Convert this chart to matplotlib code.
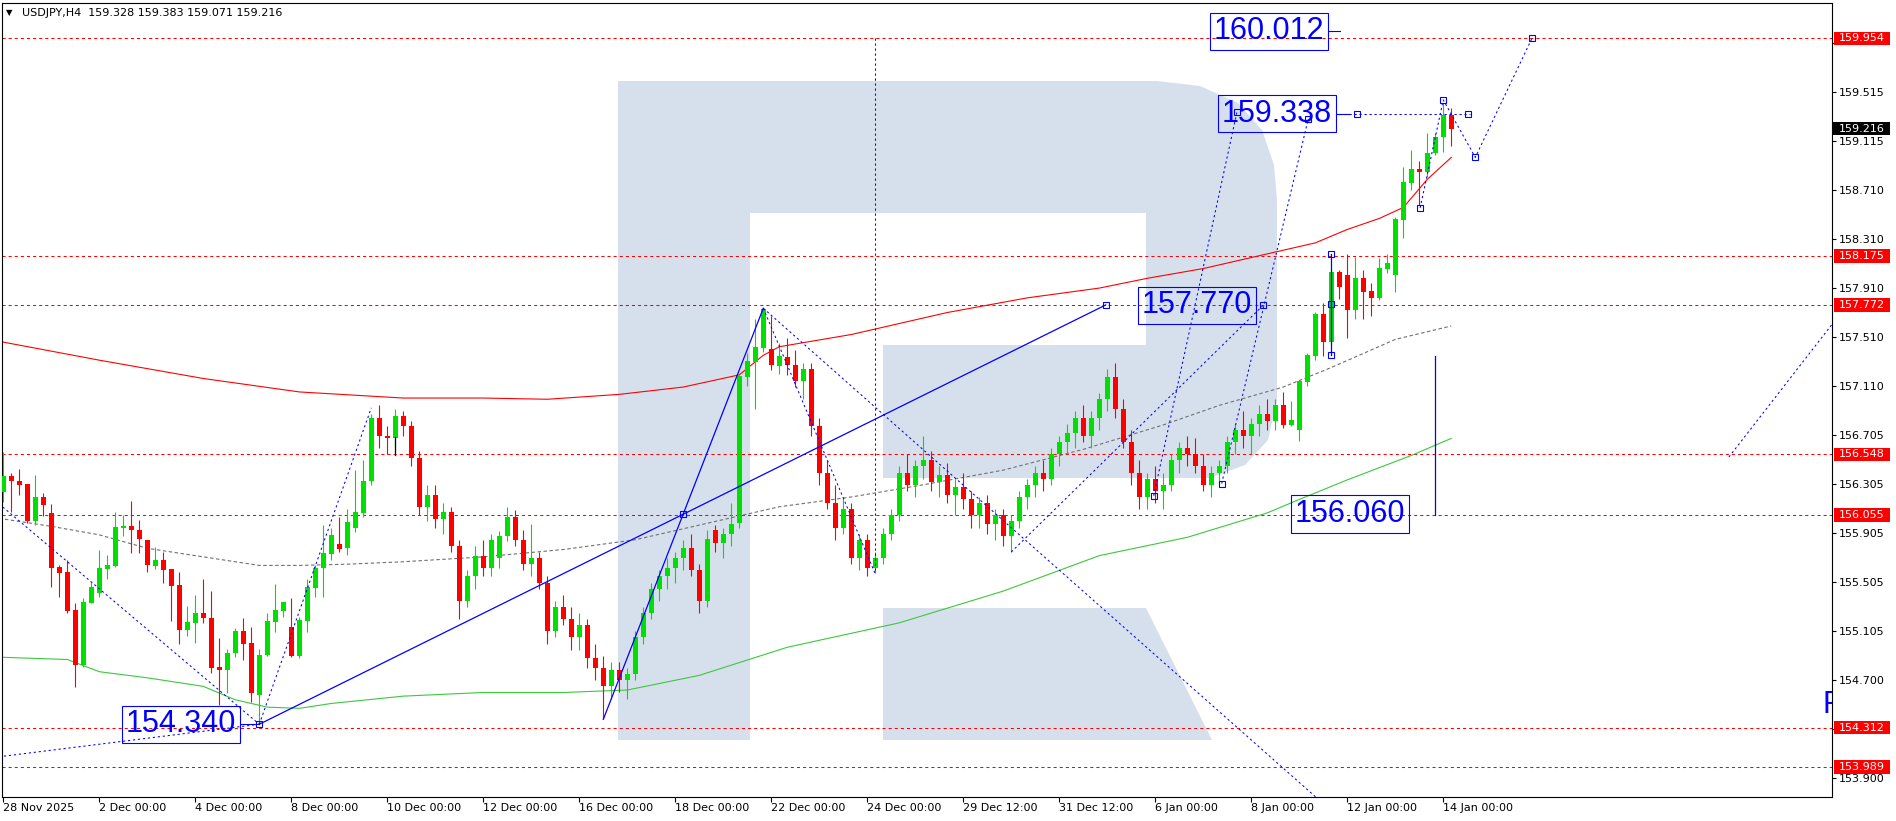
import matplotlib
matplotlib.use("Agg")
import matplotlib.pyplot as plt
import matplotlib.transforms as mtransforms
from matplotlib.patches import Rectangle, Polygon

plt.rcParams['lines.scale_dashes'] = False
plt.rcParams['font.family'] = ['DejaVu Sans']

# ---------------- données ----------------
opens = [156.243, 156.372, 156.331, 156.306, 156.006, 156.200, 156.069, 155.627, 155.586, 155.275,
         154.825, 155.335, 155.412, 155.611, 155.638, 155.949, 155.962, 155.930, 155.848, 155.635,
         155.684, 155.611, 155.482, 155.111, 155.171, 155.250, 155.210, 154.808, 154.784, 154.926,
         155.106, 155.005, 154.580, 154.904, 155.180, 155.270, 155.136, 154.899, 155.188, 155.458,
         155.616, 155.733, 155.815, 155.785, 155.943, 156.066, 156.330, 156.850, 156.700, 156.680,
         156.860, 156.780, 156.520, 156.120, 156.220, 156.020, 156.080, 155.800, 155.350, 155.550,
         155.720, 155.620, 155.700, 155.880, 156.040, 155.850, 155.650, 155.700, 155.500, 155.100,
         155.300, 155.200, 155.050, 155.150, 154.880, 154.800, 154.650, 154.780, 154.700, 154.750,
         155.050, 155.250, 155.450, 155.550, 155.620, 155.700, 155.780, 155.600, 155.350, 155.930,
         155.820, 155.900, 155.985, 157.186, 157.308, 157.423, 157.412, 157.273, 157.350, 157.280,
         157.150, 157.250, 156.780, 156.400, 156.150, 155.950, 156.100, 155.700, 155.850, 155.620,
         155.700, 155.900, 156.050, 156.400, 156.300, 156.450, 156.500, 156.320, 156.380, 156.220,
         156.280, 156.180, 156.050, 156.150, 155.980, 156.050, 155.880, 156.000, 156.200, 156.300,
         156.400, 156.350, 156.550, 156.650, 156.720, 156.850, 156.700, 156.850, 157.000, 157.180,
         156.920, 156.650, 156.400, 156.200, 156.350, 156.250, 156.300, 156.500, 156.600, 156.550,
         156.450, 156.300, 156.400, 156.450, 156.650, 156.750, 156.700, 156.800, 156.880, 156.820,
         156.953, 156.789, 156.748, 157.144, 157.354, 157.698, 157.471, 158.042, 158.014, 157.731,
         157.990, 157.886, 157.832, 158.063, 158.017, 158.467, 158.773, 158.882, 158.863, 159.013,
         159.144, 159.328]
highs = [156.571, 156.399, 156.426, 156.310, 156.380, 156.233, 156.143, 155.643, 155.684, 155.335,
         155.370, 155.507, 155.766, 155.725, 156.074, 156.052, 156.170, 156.012, 155.850, 155.793,
         155.752, 155.611, 155.589, 155.308, 155.398, 155.526, 155.433, 155.043, 154.953, 155.125,
         155.210, 155.139, 154.953, 155.253, 155.485, 155.340, 155.370, 155.220, 155.529, 155.643,
         155.971, 155.949, 156.039, 156.099, 156.421, 156.503, 156.880, 156.950, 156.780, 156.920,
         156.900, 156.820, 156.580, 156.300, 156.300, 156.150, 156.120, 155.850, 155.600, 155.800,
         155.850, 155.900, 155.920, 156.120, 156.090, 155.930, 155.980, 155.750, 155.550, 155.350,
         155.400, 155.300, 155.250, 155.200, 155.000, 154.900, 154.850, 154.850, 154.800, 155.100,
         155.300, 155.500, 155.600, 155.700, 155.750, 155.850, 155.900, 155.650, 155.930, 155.970,
         155.950, 156.150, 157.200, 157.382, 157.657, 157.745, 157.682, 157.460, 157.500, 157.400,
         157.300, 157.300, 156.850, 156.500, 156.300, 156.200, 156.150, 155.900, 155.900, 155.750,
         155.950, 156.100, 156.450, 156.550, 156.500, 156.700, 156.580, 156.450, 156.480, 156.350,
         156.400, 156.250, 156.200, 156.220, 156.100, 156.100, 156.050, 156.250, 156.350, 156.450,
         156.500, 156.600, 156.700, 156.800, 156.900, 156.950, 156.900, 157.050, 157.250, 157.300,
         157.000, 156.750, 156.500, 156.400, 156.450, 156.400, 156.550, 156.650, 156.700, 156.680,
         156.550, 156.450, 156.500, 156.700, 156.800, 156.900, 156.850, 156.950, 157.000, 157.000,
         157.062, 156.986, 157.149, 157.381, 157.717, 157.790, 158.060, 158.058, 158.186, 158.167,
         158.058, 157.949, 158.159, 158.189, 158.494, 158.904, 159.040, 158.950, 159.177, 159.177,
         159.422, 159.383]
lows = [156.162, 156.080, 156.216, 155.990, 155.971, 156.047, 155.466, 155.384, 155.248, 154.648,
        154.810, 155.330, 155.384, 155.526, 155.624, 155.881, 155.739, 155.739, 155.589, 155.613,
        155.499, 155.188, 154.997, 155.062, 155.008, 155.171, 154.757, 154.498, 154.593, 154.888,
        154.866, 154.525, 154.334, 154.899, 155.092, 155.220, 154.893, 154.880, 155.092, 155.384,
        155.379, 155.684, 155.752, 155.725, 155.916, 156.033, 156.300, 156.600, 156.550, 156.620,
        156.700, 156.450, 156.050, 156.000, 155.950, 155.900, 155.750, 155.200, 155.300, 155.450,
        155.550, 155.550, 155.620, 155.840, 155.800, 155.600, 155.550, 155.450, 155.000, 155.050,
        155.150, 154.950, 154.950, 154.800, 154.700, 154.380, 154.550, 154.600, 154.550, 154.700,
        155.000, 155.200, 155.350, 155.450, 155.500, 155.600, 155.550, 155.250, 155.300, 155.750,
        155.700, 155.800, 155.950, 157.112, 156.918, 157.390, 157.240, 157.210, 157.200, 157.100,
        157.000, 156.700, 156.300, 156.100, 155.850, 155.900, 155.650, 155.600, 155.550, 155.580,
        155.650, 155.850, 156.000, 156.250, 156.200, 156.350, 156.250, 156.200, 156.150, 156.050,
        156.100, 155.950, 155.950, 155.900, 155.850, 155.800, 155.750, 155.950, 156.100, 156.200,
        156.250, 156.300, 156.450, 156.550, 156.600, 156.650, 156.600, 156.750, 156.900, 156.850,
        156.600, 156.300, 156.100, 156.100, 156.150, 156.100, 156.250, 156.400, 156.450, 156.400,
        156.250, 156.200, 156.300, 156.400, 156.550, 156.600, 156.550, 156.700, 156.750, 156.750,
        156.762, 156.781, 156.661, 157.108, 157.321, 157.354, 157.450, 157.818, 157.504, 157.654,
        157.654, 157.681, 157.812, 158.030, 157.881, 158.317, 158.713, 158.590, 158.822, 159.000,
        159.027, 159.071]
closes = [156.372, 156.333, 156.298, 156.006, 156.203, 156.134, 155.622, 155.581, 155.270, 154.825,
          155.343, 155.466, 155.619, 155.643, 155.957, 155.962, 155.930, 155.853, 155.643, 155.684,
          155.602, 155.474, 155.111, 155.177, 155.248, 155.210, 154.798, 154.787, 154.920, 155.106,
          154.997, 154.593, 154.907, 155.185, 155.275, 155.340, 154.899, 155.193, 155.461, 155.619,
          155.739, 155.889, 155.777, 155.995, 156.074, 156.331, 156.850, 156.700, 156.680, 156.860,
          156.780, 156.520, 156.120, 156.220, 156.020, 156.080, 155.800, 155.350, 155.550, 155.720,
          155.620, 155.850, 155.880, 156.040, 155.850, 155.650, 155.700, 155.500, 155.100, 155.300,
          155.200, 155.050, 155.150, 154.880, 154.800, 154.650, 154.780, 154.700, 154.750, 155.050,
          155.250, 155.450, 155.550, 155.620, 155.700, 155.780, 155.600, 155.350, 155.860, 155.820,
          155.900, 155.980, 157.191, 157.314, 157.431, 157.739, 157.281, 157.355, 157.280, 157.150,
          157.250, 156.780, 156.400, 156.150, 155.950, 156.100, 155.700, 155.850, 155.620, 155.700,
          155.900, 156.050, 156.400, 156.300, 156.450, 156.500, 156.320, 156.380, 156.220, 156.280,
          156.180, 156.050, 156.150, 155.980, 156.050, 155.880, 156.000, 156.200, 156.300, 156.400,
          156.350, 156.550, 156.650, 156.720, 156.850, 156.700, 156.850, 157.000, 157.180, 156.920,
          156.650, 156.400, 156.200, 156.350, 156.250, 156.300, 156.500, 156.600, 156.550, 156.450,
          156.300, 156.400, 156.450, 156.650, 156.750, 156.700, 156.800, 156.880, 156.820, 156.950,
          156.789, 156.830, 157.149, 157.362, 157.698, 157.471, 158.042, 157.922, 157.731, 157.990,
          157.881, 157.832, 158.072, 158.112, 158.475, 158.781, 158.885, 158.863, 159.013, 159.149,
          159.327, 159.216]

tick_bars = [0, 12, 24, 36, 48, 60, 72, 84, 96, 108, 120, 132, 144, 156, 168, 180]
tick_labels = ['28 Nov 2025', '2 Dec 00:00', '4 Dec 00:00', '8 Dec 00:00', '10 Dec 00:00',
               '12 Dec 00:00', '16 Dec 00:00', '18 Dec 00:00', '22 Dec 00:00', '24 Dec 00:00',
               '29 Dec 12:00', '31 Dec 12:00', '6 Jan 00:00', '8 Jan 00:00', '12 Jan 00:00',
               '14 Jan 00:00']
price_ticks = [159.915, 159.515, 159.115, 158.710, 158.310, 157.910, 157.510, 157.110,
               156.705, 156.305, 155.905, 155.505, 155.105, 154.700, 154.300, 153.900]
hidden_ticks = [159.915, 154.300]   # masquées par les étiquettes rouges
levels = [159.954, 158.175, 157.772, 156.548, 156.055, 154.312, 153.989]
last_price = 159.216

# moyennes mobiles (barre, prix)
red_ma_x = [-1, 12, 25, 37, 50, 60, 68, 77, 85, 92, 95, 97, 106, 118, 128, 137, 143, 150, 156, 164, 168, 172, 175, 178, 181]
red_ma_y = [157.48, 157.32, 157.17, 157.06, 157.01, 157.01, 157.00, 157.04, 157.10, 157.20, 157.36, 157.43,
            157.53, 157.71, 157.83, 157.91, 157.99, 158.07, 158.16, 158.28, 158.39, 158.48, 158.57, 158.80, 158.98]
gray_ma_x = [-1, 6, 12, 18, 25, 32, 37, 43, 50, 60, 70, 79, 87, 97, 106, 115, 125, 135, 145, 152, 160, 166, 174, 181]
gray_ma_y = [156.03, 155.96, 155.89, 155.78, 155.71, 155.64, 155.64, 155.65, 155.67, 155.71, 155.77, 155.85,
             155.97, 156.12, 156.20, 156.30, 156.42, 156.59, 156.79, 156.95, 157.10, 157.26, 157.49, 157.60]
green_ma_x = [-1, 8, 12, 18, 25, 29, 33, 37, 41, 50, 60, 70, 78, 87, 98, 112, 125, 137, 148, 158, 162, 168, 176, 181]
green_ma_y = [154.89, 154.87, 154.77, 154.72, 154.65, 154.54, 154.48, 154.47, 154.51, 154.57, 154.60, 154.60,
              154.62, 154.74, 154.97, 155.17, 155.43, 155.72, 155.87, 156.07, 156.18, 156.34, 156.54, 156.68]

# objets graphiques bleus (barre, prix)
dot_a_x, dot_a_y = [-1, 32], [156.17, 154.34]
dot_b_x, dot_b_y = [-1, 32], [154.07, 154.34]
dot_c_x, dot_c_y = [32, 46], [154.34, 156.93]
dot_d_x, dot_d_y = [95, 109], [157.745, 155.57]
dot_e_x, dot_e_y = [95, 170], [157.745, 153.40]
dot_v_x, dot_v_y = [109, 109], [159.954, 155.60]
dot_f_x, dot_f_y = [126, 157.5], [155.75, 157.77]
steep1_x, steep1_y = [143.8, 154.2], [156.21, 159.35]
steep2_x, steep2_y = [152.3, 163.1], [156.31, 159.29]
h338_x, h338_y = [167.0, 183.3], [159.338, 159.338]
fcst_x, fcst_y = [177.1, 180.0, 184.0, 191.1], [158.566, 159.45, 158.98, 159.957]
far_x, far_y = [215.7, 229.5], [156.527, 157.69]
sol1_x, sol1_y = [32, 137.8], [154.34, 157.772]
sol2_x, sol2_y = [75, 95], [154.38, 157.745]
sol3_x, sol3_y = [166, 166], [158.189, 157.362]
sol4_x, sol4_y = [179, 179], [157.354, 156.055]
mark_x = [32, 85, 137.8, 166, 166, 166, 169.2, 183.1, 180.0, 177.1, 184.0, 191.1,
          143.8, 154.2, 152.3, 163.1, 157.5]
mark_y = [154.34, 156.06, 157.772, 158.189, 157.78, 157.362, 159.338, 159.338, 159.45, 158.566, 158.98, 159.957,
          156.21, 159.35, 156.31, 159.29, 157.77]
cross_x, cross_y = [48.96, 48.96], [156.69, 156.54]

boxes_txt = ['160.012', '159.338', '157.770', '154.340', '156.060']
boxes_x = [158.2, 159.2, 149.2, 22.2, 168.3]
boxes_y = [160.012, 159.338, 157.770, 154.340, 156.060]

# ---------------- figure ----------------
W, H = 1896, 821
L, R, T, B = 2, 1832, 3, 797
fig = plt.figure(figsize=(W / 100, H / 100), dpi=100)
ax = fig.add_axes([L / W, (H - B) / H, (R - L) / W, (B - T) / H])
ax.set_xlim((L - 3.3) / 8, (R - 3.3) / 8)
ax.set_ylim(153.7444, 160.2435)

def bx(px):
    return (px - 3.3) / 8

def py(px):
    return 159.515 - (px - 92) / 122.17

# filigrane "R"
wm = '#d6e0ec'
shape = [(618, 81), (1157, 81), (1200, 86), (1238, 103), (1262, 130), (1274, 165), (1277, 200),
         (1277, 400), (1268, 440), (1245, 465), (1210, 478), (883, 478), (883, 740), (618, 740)]
ax.add_patch(Polygon([(bx(a), py(b)) for a, b in shape], closed=True, fc=wm, ec='none', zorder=0.5))
hole = [(750, 213), (1146, 213), (1146, 345), (750, 345)]
ax.add_patch(Polygon([(bx(a), py(b)) for a, b in hole], closed=True, fc='white', ec='none', zorder=0.6))
gap = [(750, 345), (883, 345), (883, 740), (750, 740)]
ax.add_patch(Polygon([(bx(a), py(b)) for a, b in gap], closed=True, fc='white', ec='none', zorder=0.6))
leg = [(883, 608), (1146, 608), (1212, 740), (883, 740)]
ax.add_patch(Polygon([(bx(a), py(b)) for a, b in leg], closed=True, fc=wm, ec='none', zorder=0.7))

# niveaux horizontaux
for lv in levels:
    ax.axhline(lv, color='#ff0000', lw=0.75, ls=(0, (2.2, 2.2)), zorder=1)

# moyennes mobiles
ax.plot(red_ma_x, red_ma_y, color='#ff0000', lw=0.8, zorder=2)
ax.plot(green_ma_x, green_ma_y, color='#3cc83c', lw=0.8, zorder=2)
ax.plot(gray_ma_x, gray_ma_y, color='#707070', lw=0.8, ls=(0, (2.5, 1.8)), zorder=2)

# bougies
up, down = '#00e000', '#ff0000'
idx = list(range(len(closes)))
cols = [up if c >= o else down for o, c in zip(opens, closes)]
ax.vlines(idx, lows, highs, colors=cols, lw=0.8, zorder=3)
bottoms = [min(o, c) for o, c in zip(opens, closes)]
heights = [max(abs(c - o), 0.008) for o, c in zip(opens, closes)]
ax.bar(idx, heights, bottom=bottoms, width=0.62, color=cols, lw=0, zorder=3.1)

# lignes bleues
blue = '#0000ff'
dot = (0, (1.6, 2.0))
for xs_, ys_ in [(dot_a_x, dot_a_y), (dot_b_x, dot_b_y), (dot_c_x, dot_c_y), (dot_d_x, dot_d_y),
                 (dot_e_x, dot_e_y), (dot_v_x, dot_v_y), (dot_f_x, dot_f_y), (steep1_x, steep1_y),
                 (steep2_x, steep2_y), (h338_x, h338_y), (fcst_x, fcst_y), (far_x, far_y)]:
    ax.plot(xs_, ys_, color=blue, lw=0.75, ls=dot, zorder=4)
for xs_, ys_ in [(sol1_x, sol1_y), (sol2_x, sol2_y), (sol3_x, sol3_y), (sol4_x, sol4_y)]:
    ax.plot(xs_, ys_, color=blue, lw=0.9, zorder=4)
ax.plot(mark_x, mark_y, ls='none', marker='s', ms=4, mfc='none', mec=blue, mew=0.8, zorder=4.5)
ax.plot(cross_x, cross_y, color='black', lw=0.9, zorder=4)

for s, x, y in zip(boxes_txt, boxes_x, boxes_y):
    ax.text(x, y, s, ha='center', va='center', fontsize=22, family='Liberation Sans', color=blue,
            bbox=dict(boxstyle='square,pad=0.12', fc='none', ec=blue, lw=0.8), zorder=5)
# petits traits de liaison
ax.plot([165.7, 167.1], [160.012, 160.012], color=blue, lw=0.8, zorder=4)
ax.plot([29.7, 31.4], [154.34, 154.34], color=blue, lw=0.8, zorder=4)
ax.plot([166.7, 168.2], [159.338, 159.338], color=blue, lw=0.8, zorder=4)
ax.text(227.4, 154.50, 'R', fontsize=22, family='Liberation Sans', color=blue, ha='left', va='center',
        clip_on=True, zorder=5)

# axes
for sp in ax.spines.values():
    sp.set_color('black')
    sp.set_linewidth(0.8)
ax.yaxis.tick_right()
ax.set_yticks(price_ticks)
ax.set_yticklabels(['' if v in hidden_ticks else '%.3f' % v for v in price_ticks])
ax.set_xticks(tick_bars)
ax.set_xticklabels(tick_labels)
for lab in ax.get_xticklabels():
    lab.set_ha('left')
ax.tick_params(axis='y', direction='out', length=3, width=0.8, pad=2, labelsize=8, colors='black')
ax.tick_params(axis='x', direction='out', length=3.6, width=0.8, pad=1, labelsize=8, colors='black')

blend = mtransforms.blended_transform_factory(ax.transAxes, ax.transData)
x0 = (1834 - L) / (R - L)
wbox = 56 / (R - L)
xc = (1862 - L) / (R - L)
for lv in levels:
    ax.add_patch(Rectangle((x0, lv - 0.056), wbox, 0.112, transform=blend, fc='#ff0000', ec='none',
                           clip_on=False, zorder=10))
    ax.text(xc, lv, '%.3f' % lv, transform=blend, ha='center', va='center', color='white', fontsize=8,
            clip_on=False, zorder=11)
ax.add_patch(Rectangle(((1833 - L) / (R - L), last_price - 0.056), 57 / (R - L), 0.112, transform=blend,
                       fc='black', ec='none', clip_on=False, zorder=10))
ax.text(xc, last_price, '%.3f' % last_price, transform=blend, ha='center', va='center', color='white',
        fontsize=8, clip_on=False, zorder=11)

# titre
fig.text(6 / W, 1 - 13 / H, '\u25bc', fontsize=6, va='center', ha='left', color='black')
fig.text(22 / W, 1 - 13 / H, 'USDJPY,H4  159.328 159.383 159.071 159.216', fontsize=8, va='center',
         ha='left', color='#000000')

fig.savefig('out.png', dpi=100, facecolor='white')
